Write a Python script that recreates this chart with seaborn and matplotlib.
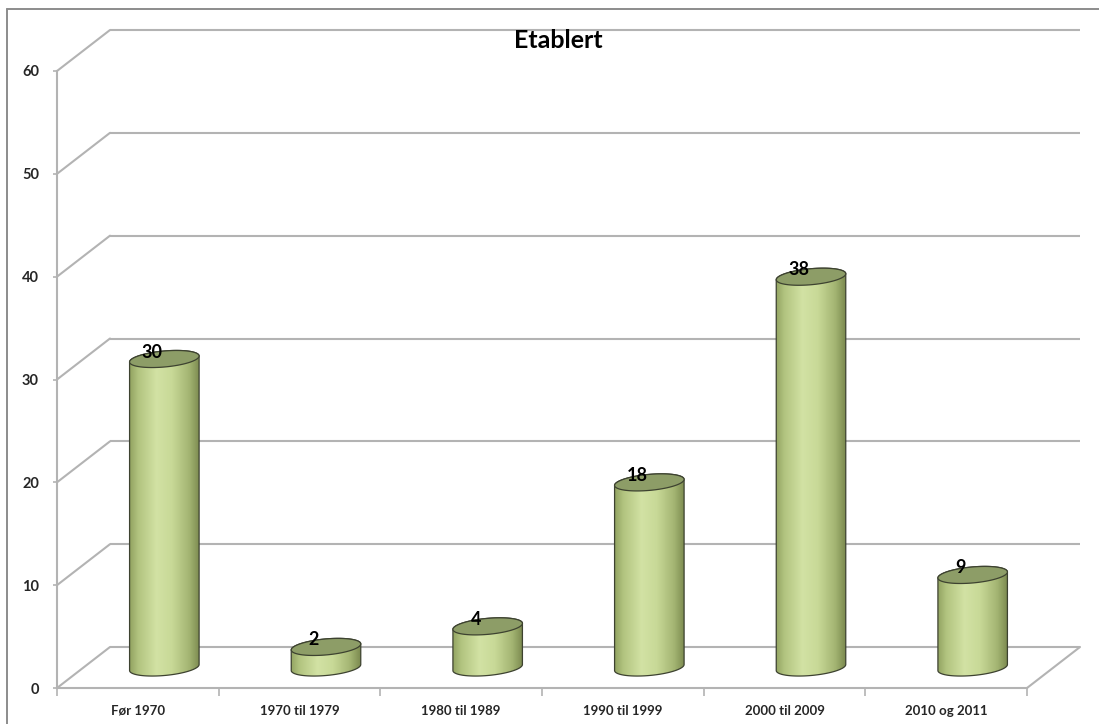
import numpy as np
import pandas as pd
import matplotlib
matplotlib.use("Agg")
import matplotlib.pyplot as plt
from matplotlib.colors import LinearSegmentedColormap
from matplotlib.patches import Polygon
from matplotlib.lines import Line2D
import seaborn as sns

# ---- data -------------------------------------------------------------
categories = ["Før 1970", "1970 til 1979", "1980 til 1989",
              "1990 til 1999", "2000 til 2009", "2010 og 2011"]
values = [30, 2, 4, 18, 38, 9]
y_ticks = [0, 10, 20, 30, 40, 50, 60]
title = "Etablert"

# ---- style ------------------------------------------------------------
sns.set_theme(style="white")
plt.rcParams["font.family"] = ["Lato", "DejaVu Sans"]

W, H, DPI = 1099, 724, 100
GRID = "#b3b3b3"
fig = plt.figure(figsize=(W / DPI, H / DPI), dpi=DPI)
fig.patch.set_facecolor("white")
ax = fig.add_axes([57 / W, 1 - 688 / H, (1027 - 57) / W, (688 - 71) / H])
ax.patch.set_alpha(0)

df = pd.DataFrame({"periode": categories, "antall": values})
sns.barplot(data=df, x="periode", y="antall", width=0.43, color="#cfe0a0", ax=ax)
ax.set_xlim(-0.5, len(categories) - 0.5)
ax.set_ylim(y_ticks[0], y_ticks[-1])
ax.set_xlabel("")
ax.set_ylabel("")

# pixel -> data conversion for the pseudo-3D depth
px_x = ax.bbox.width / (len(categories))           # px per category
px_y = ax.bbox.height / (y_ticks[-1] - y_ticks[0])  # px per unit
DX = 53 / px_x
DY = 41 / px_y
x0, x1 = ax.get_xlim()

# back wall grid lines and side wall diagonals
for v in y_ticks:
    ax.plot([x0 + DX, x1 + DX], [v + DY, v + DY], color=GRID, lw=1.5,
            clip_on=False, zorder=0.5, solid_capstyle="butt")
    ax.plot([x0, x0 + DX], [v, v + DY], color=GRID, lw=1.5,
            clip_on=False, zorder=0.5)
# right edge of the floor
ax.plot([x1, x1 + DX], [0, DY], color=GRID, lw=1.5, clip_on=False, zorder=0.5)

# spines / ticks
for side in ["top", "right"]:
    ax.spines[side].set_visible(False)
for side in ["left", "bottom"]:
    ax.spines[side].set_color(GRID)
    ax.spines[side].set_linewidth(1.5)
ax.set_yticks(y_ticks)
ax.set_yticklabels([str(t) for t in y_ticks], fontsize=10.5, fontweight="bold")
ax.tick_params(axis="y", left=True, length=3, width=1.2, color=GRID, pad=10)
ax.set_xticks(range(len(categories)))
ax.set_xticklabels(categories, fontsize=9.5, fontweight="bold")
ax.set_xticks(np.arange(x0, x1 + 0.01, 1.0), minor=True)
ax.tick_params(axis="x", which="major", bottom=False, length=0, pad=12)
ax.tick_params(axis="x", which="minor", bottom=True, length=6, width=1.2, color=GRID)

# ---- cylinders ----------------------------------------------------------
body_cmap = LinearSegmentedColormap.from_list(
    "cyl", [(0.0, "#93a462"), (0.12, "#b2c480"), (0.38, "#d2e2a4"),
            (0.6, "#c8d997"), (0.85, "#a3b472"), (1.0, "#7a894e")])
grad = np.linspace(0, 1, 256)[None, :]
b = 8 / px_y      # vertical semi-axis of the ellipse
s = 3 / px_y      # slant of the ellipse (right side higher)
t_low = np.linspace(0, -np.pi, 80)
t_up = np.linspace(np.pi, 0, 80)
t_all = np.linspace(0, 2 * np.pi, 160)

for patch, v in zip(ax.patches, values):
    patch.set_visible(False)
    w = patch.get_width()
    h = patch.get_height()
    a = w / 2
    cx = patch.get_x() + a + DX / 2
    base = DY / 2
    top = h + DY / 2

    def ell(t, yc):
        return np.column_stack([cx + a * np.cos(t), yc + b * np.sin(t) + s * np.cos(t)])

    outline = np.vstack([ell(t_low, base), ell(t_up, top)])
    body = Polygon(outline, closed=True, facecolor="none", edgecolor="#3d4230",
                   lw=0.9, zorder=3, clip_on=False)
    ax.add_patch(body)
    img = ax.imshow(grad, cmap=body_cmap, aspect="auto", interpolation="bilinear",
                    extent=[cx - a, cx + a, base - b - s, top + b + s], zorder=2)
    img.set_clip_path(body)
    cap = Polygon(ell(t_all, top), closed=True, facecolor="#8d9d67",
                  edgecolor="#3d4230", lw=0.9, zorder=4, clip_on=False)
    ax.add_patch(cap)
    ax.text(cx - 12 / px_x, top + 7 / px_y, f"{v}", ha="center", va="center",
            fontsize=13, fontweight="bold", color="black", zorder=5)

ax.set_xlim(x0, x1)
ax.set_ylim(y_ticks[0], y_ticks[-1])

# title and chart frame
fig.text(558 / W, 1 - 40 / H, title, ha="center", va="center",
         fontsize=18, fontweight="bold", color="black")
fig.add_artist(Line2D([7 / W, 7 / W], [0, 1 - 9 / H], color="#8c8c8c", lw=1.4))
fig.add_artist(Line2D([7 / W, 1], [1 - 9 / H, 1 - 9 / H], color="#8c8c8c", lw=1.4))

fig.savefig("out.png", dpi=DPI)
